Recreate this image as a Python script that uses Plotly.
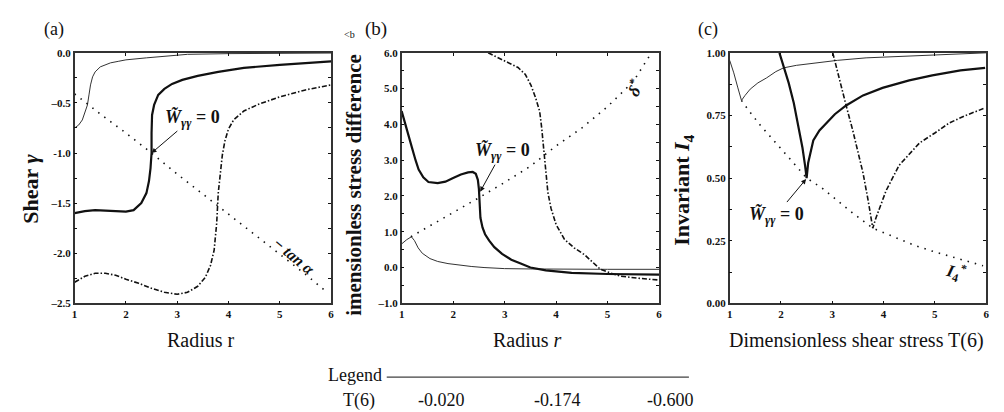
import plotly.graph_objects as go

W, H = 1004, 412

# ---------------- data ----------------
T6_values = ["-0.020", "-0.174", "-0.600"]

# panel (a): shear gamma vs radius r
r_a1 = [1.0, 1.08, 1.15, 1.2, 1.25, 1.28, 1.31, 1.35, 1.4, 1.5, 1.6, 1.7, 1.85, 2.0, 2.4, 2.8, 3.2, 4.0, 5.0, 6.0]
g_a1 = [-0.75, -0.72, -0.67, -0.6, -0.52, -0.42, -0.32, -0.24, -0.19, -0.14, -0.12, -0.10, -0.085, -0.07, -0.05, -0.03, -0.015, -0.008, -0.004, -0.002]
r_a2 = [1.0, 1.2, 1.4, 1.6, 1.8, 2.0, 2.15, 2.3, 2.4, 2.45, 2.48, 2.5, 2.5, 2.5, 2.51, 2.55, 2.63, 2.75, 2.9, 3.1, 3.4, 3.8, 4.3, 5.0, 5.5, 6.0]
g_a2 = [-1.60, -1.58, -1.57, -1.575, -1.585, -1.585, -1.57, -1.5, -1.4, -1.28, -1.15, -1.0, -0.8, -0.7, -0.62, -0.52, -0.42, -0.36, -0.31, -0.27, -0.23, -0.19, -0.15, -0.12, -0.1, -0.085]
r_a3 = [1.0, 1.2, 1.4, 1.6, 1.8, 2.0, 2.25, 2.5, 2.75, 3.0, 3.2, 3.4, 3.55, 3.65, 3.72, 3.77, 3.8, 3.84, 3.88, 3.93, 4.0, 4.1, 4.3, 4.6, 5.0, 5.5, 6.0]
g_a3 = [-2.29, -2.23, -2.2, -2.2, -2.22, -2.26, -2.3, -2.35, -2.39, -2.41, -2.39, -2.33, -2.24, -2.12, -1.97, -1.7, -1.4, -1.2, -1.02, -0.88, -0.76, -0.67, -0.58, -0.51, -0.44, -0.37, -0.32]
r_a_tan = [1.0, 1.5, 2.0, 2.5, 3.0, 3.5, 4.0, 4.5, 5.0, 5.5, 5.9]
g_a_tan = [-0.41, -0.61, -0.80, -1.0, -1.21, -1.41, -1.61, -1.81, -2.01, -2.21, -2.38]

# panel (b): dimensionless stress difference vs radius r
r_b1 = [1.0, 1.1, 1.19, 1.25, 1.32, 1.4, 1.55, 1.7, 1.9, 2.1, 2.35, 2.6, 3.0, 3.5, 4.0, 5.0, 6.0]
s_b1 = [0.66, 0.78, 0.86, 0.75, 0.55, 0.40, 0.25, 0.17, 0.11, 0.07, 0.03, 0.0, -0.03, -0.04, -0.05, -0.05, -0.05]
r_b2 = [1.0, 1.05, 1.1, 1.2, 1.27, 1.33, 1.42, 1.52, 1.7, 1.85, 2.0, 2.15, 2.29, 2.38, 2.44, 2.48, 2.5, 2.51, 2.53, 2.57, 2.62, 2.7, 2.8, 2.95, 3.13, 3.3, 3.5, 3.8, 4.3, 5.0, 6.0]
s_b2 = [4.37, 4.1, 3.85, 3.35, 3.0, 2.74, 2.52, 2.39, 2.36, 2.4, 2.5, 2.6, 2.66, 2.67, 2.62, 2.45, 2.2, 1.8, 1.39, 1.12, 0.93, 0.75, 0.57, 0.38, 0.22, 0.12, 0.0, -0.08, -0.15, -0.18, -0.2]
r_b3 = [2.68, 2.9, 3.1, 3.26, 3.4, 3.51, 3.6, 3.68, 3.72, 3.75, 3.78, 3.8, 3.84, 3.9, 4.0, 4.16, 4.35, 4.55, 4.7, 4.86, 5.05, 5.25, 5.6, 6.0]
s_b3 = [6.0, 5.85, 5.72, 5.59, 5.4, 5.1, 4.75, 4.37, 3.9, 3.45, 3.0, 2.56, 2.1, 1.66, 1.2, 0.79, 0.55, 0.36, 0.15, -0.05, -0.15, -0.24, -0.3, -0.35]
r_b_delta = [1.18, 1.5, 2.0, 2.5, 3.0, 3.5, 4.0, 4.5, 5.0, 5.5, 5.85]
s_b_delta = [0.86, 1.12, 1.53, 1.95, 2.38, 2.83, 3.4, 3.9, 4.5, 5.2, 6.0]

# panel (c): invariant I4 vs dimensionless shear stress
t_c1 = [1.0, 1.08, 1.16, 1.23, 1.3, 1.4, 1.55, 1.72, 1.9, 2.05, 2.3, 2.69, 3.1, 3.66, 4.3, 4.95, 5.5, 6.0]
i_c1 = [0.97, 0.92, 0.86, 0.81, 0.83, 0.855, 0.88, 0.90, 0.925, 0.94, 0.95, 0.96, 0.97, 0.98, 0.985, 0.99, 0.995, 1.0]
t_c2 = [1.97, 2.05, 2.15, 2.25, 2.35, 2.42, 2.47, 2.5, 2.53, 2.58, 2.63, 2.75, 2.88, 3.05, 3.27, 3.6, 3.98, 4.5, 4.95, 5.5, 5.98]
i_c2 = [1.0, 0.95, 0.88, 0.8, 0.7, 0.62, 0.55, 0.50, 0.56, 0.61, 0.65, 0.69, 0.72, 0.755, 0.79, 0.83, 0.86, 0.89, 0.91, 0.93, 0.94]
t_c3 = [3.01, 3.15, 3.27, 3.4, 3.5, 3.6, 3.7, 3.79, 3.85, 3.92, 4.05, 4.3, 4.7, 5.0, 5.28, 5.6, 5.98]
i_c3 = [1.0, 0.88, 0.79, 0.69, 0.61, 0.52, 0.41, 0.30, 0.34, 0.38, 0.45, 0.55, 0.64, 0.68, 0.72, 0.75, 0.78]
t_c_star = [1.23, 1.37, 1.6, 1.91, 2.16, 2.5, 2.8, 3.1, 3.4, 3.79, 4.2, 4.62, 5.0, 5.26, 5.6, 5.94]
i_c_star = [0.81, 0.77, 0.71, 0.64, 0.58, 0.50, 0.46, 0.41, 0.36, 0.30, 0.265, 0.23, 0.205, 0.19, 0.17, 0.15]

x_ticks = [1, 2, 3, 4, 5, 6]
x_ticktext = ["1", "2", "3", "4", "5", "6"]
ya_ticks = [0.0, -0.5, -1.0, -1.5, -2.0, -2.5]
ya_ticktext = ["0.0", "\u20130.5", "-1.0", "\u20131.5", "-2.0", "\u20132.5"]
yb_ticks = [6.0, 5.0, 4.0, 3.0, 2.0, 1.0, 0.0, -1.0]
yb_ticktext = ["6.0", "5.0", "4.0", "3.0", "2.0", "1.0", "0.0", "\u20131.0"]
yc_ticks = [1.0, 0.75, 0.5, 0.25, 0.0]
yc_ticktext = ["1.00", "0.75", "0.50", "0.25", "0.00"]

# ---------------- styles ----------------
SERIF = "Liberation Serif"
INK = "#111111"
thin = dict(color="#333333", width=1)
thick = dict(color=INK, width=2.2)
dashdot = dict(color=INK, width=1.6, dash="5px,2px,1.5px,2px")
dotted = dict(color=INK, width=1.6, dash="1.5px,6px")


def px(x):
    return x / W


def py(y):
    return 1 - y / H


def bold_list(labels):
    return ["<b>" + s + "</b>" for s in labels]


fig = go.Figure()

panels = [
    ("x", "y", [(r_a1, g_a1, thin), (r_a2, g_a2, thick), (r_a3, g_a3, dashdot), (r_a_tan, g_a_tan, dotted)]),
    ("x2", "y2", [(r_b1, s_b1, thin), (r_b2, s_b2, thick), (r_b3, s_b3, dashdot), (r_b_delta, s_b_delta, dotted)]),
    ("x3", "y3", [(t_c1, i_c1, thin), (t_c2, i_c2, thick), (t_c3, i_c3, dashdot), (t_c_star, i_c_star, dotted)]),
]
for xa, ya, curves in panels:
    for xs, ys, ln in curves:
        fig.add_trace(go.Scatter(x=xs, y=ys, mode="lines", line=ln, xaxis=xa, yaxis=ya,
                                 showlegend=False, hoverinfo="skip", cliponaxis=True))

ydom = [py(298), py(40)]
tickfont = dict(family=SERIF, size=11, color=INK)


def xaxis(dom, anchor):
    return dict(domain=dom, anchor=anchor, range=[1, 6], tickvals=x_ticks,
                ticktext=bold_list(x_ticktext), ticks="inside", ticklen=3,
                tickcolor=INK, showline=True, linecolor="#333333", linewidth=1.5,
                mirror="ticks", showgrid=False, zeroline=False,
                tickfont=tickfont, fixedrange=True)


def yaxis(anchor, rng, tv, tt, minor_dt):
    return dict(domain=ydom, anchor=anchor, range=rng, tickvals=tv, ticktext=bold_list(tt),
                ticks="inside", ticklen=3, tickcolor=INK, showline=True,
                linecolor="#333333", linewidth=1.5, mirror="allticks", showgrid=False,
                zeroline=False, tickfont=tickfont, fixedrange=True,
                minor=dict(dtick=minor_dt, ticks="inside", ticklen=3, tickcolor=INK, showgrid=False))


fig.update_layout(
    width=W, height=H, margin=dict(l=0, r=0, t=0, b=0),
    paper_bgcolor="white", plot_bgcolor="white",
    font=dict(family=SERIF, color=INK),
    xaxis=xaxis([px(64), px(322)], "y"),
    xaxis2=xaxis([px(393), px(652)], "y2"),
    xaxis3=xaxis([px(723), px(981)], "y3"),
    yaxis=yaxis("x", [-2.5, 0.0], ya_ticks, ya_ticktext, 0.25),
    yaxis2=yaxis("x2", [-1.0, 6.0], yb_ticks, yb_ticktext, 0.5),
    yaxis3=yaxis("x3", [0.0, 1.0], yc_ticks, yc_ticktext, 0.125),
)

ann = []


def text(x, y, s, size=16, angle=0, bold=False, italic=False, xanchor="center"):
    if bold:
        s = "<b>" + s + "</b>"
    if italic:
        s = "<i>" + s + "</i>"
    ann.append(dict(x=px(x), y=py(y), xref="paper", yref="paper", text=s, showarrow=False,
                    textangle=angle, xanchor=xanchor, yanchor="middle",
                    font=dict(family=SERIF, size=size, color=INK)))


# panel labels
text(43, 16, "(a)", 18)
text(341, 21, "&lt;b", 10)
text(367, 15, "(b)", 19)
text(701, 16, "(c)", 18)

# y-axis titles
text(20, 180, "Shear <i>γ</i>", 22, angle=-90, bold=True)
text(345, 176, "imensionless stress difference", 21, angle=-90, bold=True)
text(676, 181, "Invariant <i>I</i><sub>4</sub>", 22, angle=-90, bold=True)

# x-axis titles
text(191, 336, "Radius r", 20)
text(520, 336, "Radius <i>r</i>", 20)
text(851, 336, "Dimensionless shear stress T(6)", 20)

# curve labels
text(285, 250, "\u2212 <i>tan α</i>", 16, angle=40, bold=True)
text(627, 76, "<i>δ</i><sup>*</sup>", 17, angle=-60, bold=True)
text(951, 266, "<i>I</i><sub>4</sub><sup>*</sup>", 17, angle=15, bold=True)

# W annotation arrows
wlabel = "<b><i>W\u0303</i><sub><i>γγ</i></sub> = 0</b>"
for xr, yr, xv, yv, axp, ayp in [("x", "y", 2.5, -1.0, 41, -35),
                                 ("x2", "y2", 2.525, 2.12, 22, -40),
                                 ("x3", "y3", 2.49, 0.496, -30, 36)]:
    ann.append(dict(x=xv, y=yv, xref=xr, yref=yr, text=wlabel, showarrow=True,
                    ax=axp, ay=ayp, arrowhead=2, arrowsize=1, arrowwidth=1,
                    arrowcolor=INK, font=dict(family=SERIF, size=18, color=INK)))

# legend
text(346, 372, "Legend", 18)
text(350, 398, "T(6)", 18)
for xc, lab in zip([433, 550, 663], T6_values):
    text(xc, 398, lab, 18)

fig.update_layout(annotations=ann,
                  shapes=[dict(type="line", xref="paper", yref="paper",
                               x0=px(378), x1=px(682), y0=py(374), y1=py(374),
                               line=dict(color=INK, width=1))])

fig.write_html("out.html")
